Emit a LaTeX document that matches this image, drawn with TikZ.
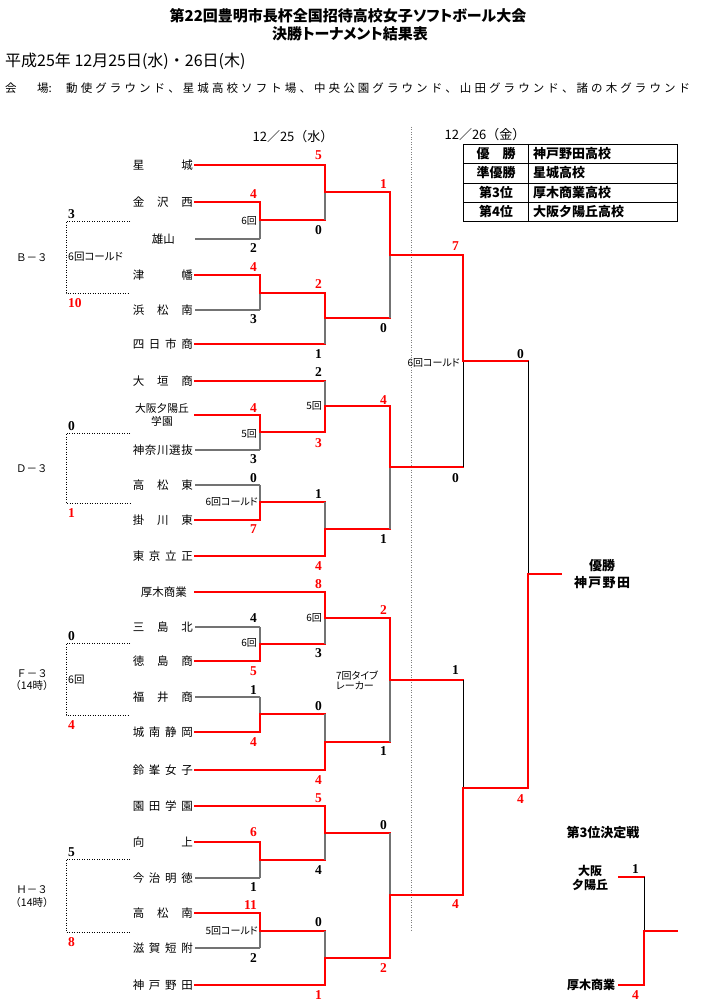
\documentclass[tikz,border=0pt]{standalone}
\usepackage{fontspec}
\setmainfont{Noto Sans CJK JP}
\newfontfamily\jpp{Noto Sans CJK JP}[RawFeature=+palt]
\newfontfamily\numfont{Liberation Serif}
\definecolor{wr}{RGB}{255,0,0}
\definecolor{lg}{RGB}{115,115,115}
\makeatletter
\def\spreadtxt#1{#1\spread@next}
\def\spread@next#1{\ifx#1\relax\else\hfill#1\expandafter\spread@next\fi}
\makeatother
\newcommand\tn[1]{\makebox[60pt][s]{\spreadtxt#1\relax}}
\newcommand\spw[2]{\makebox[#1][s]{\spreadtxt#2\relax}}
\tikzset{
 win/.style={draw=wr, line width=2pt, line cap=rect},
 los/.style={draw=lg, line width=1.3pt},
 lk/.style={draw=black, line width=0.8pt},
 tm/.style={anchor=east, inner sep=0pt, font=\fontsize{11.5}{12}\selectfont},
 sr/.style={inner sep=0pt, anchor=east, text=wr, font=\numfont\bfseries\fontsize{13.5}{13.5}\selectfont},
 sb/.style={inner sep=0pt, anchor=east, text=black, font=\numfont\bfseries\fontsize{13.5}{13.5}\selectfont},
 lb/.style={inner sep=0pt, font=\jpp\fontsize{10}{10}\selectfont},
 dt/.style={draw=black, line width=0.7pt, dash pattern=on 1pt off 1.5pt},
 bl/.style={inner sep=0pt, font=\fontsize{10.5}{12.5}\selectfont},
 tb/.style={inner sep=0pt, font=\bfseries\fontsize{13}{13}\selectfont},
}
% game: [loser style]{junction}{top source}{bottom source}{1 top wins / 2 bottom wins}{next}
\newcommand\game[6][los]{%
 \ifnum#5=1
  \draw[#1] (#2) -- (#2 |- #4);
  \draw[win] (#2 |- #3) -- (#2) -- (#2 -| #6);
 \else
  \draw[#1] (#2 |- #3) -- (#2);
  \draw[win] (#2 |- #4) -- (#2) -- (#2 -| #6);
 \fi}
\begin{document}
\begin{tikzpicture}[x=1pt,y=-1pt]
\fill[white] (0,0) rectangle (710,1003);
\useasboundingbox (0,0) rectangle (710,1003);

% header
\node[inner sep=0pt, font=\jpp\bfseries\fontsize{15}{15}\selectfont] (ttl1) at (348,16) {第22回豊明市長杯全国招待高校女子ソフトボール大会};
\node[inner sep=0pt, font=\jpp\bfseries\fontsize{15}{15}\selectfont] (ttl2) at (350,34) {決勝トーナメント結果表};
\node[inner sep=0pt, anchor=west, font=\fontsize{16}{16}\selectfont] (date) at (5,61) {平成25年\ 12月25日(水)・26日(木)};
\node[inner sep=0pt, anchor=west, font=\fontsize{11.5}{11.5}\selectfont] (ven1) at (5,88) {会};
\node[inner sep=0pt, anchor=west, font=\fontsize{11.5}{11.5}\selectfont] (ven2) at (37,88) {場:};
\node[inner sep=0pt, anchor=west, font=\fontsize{11.5}{11.5}\selectfont] (ven3) at (66,88) {\spw{624pt}{動使グラウンド、星城高校ソフト場、中央公園グラウンド、山田グラウンド、諸の木グラウンド}};

\node[inner sep=0pt, font=\fontsize{13}{13}\selectfont] (day1) at (293,137) {12／25（水）};
\node[inner sep=0pt, font=\fontsize{13}{13}\selectfont] (day2) at (485,135) {12／26（金）};

% separator
\coordinate (sepT) at (411,127);
\coordinate (sepB) at (411,932);
\draw[draw=gray, line width=0.8pt, dash pattern=on 1pt off 1.5pt] (sepT) -- (sepB);

% result table
\draw[line width=0.8pt] (463,144) rectangle (677,221);
\draw[line width=0.8pt] (528,144) -- (528,221);
\foreach \yy in {163.5,183,202} \draw[line width=0.8pt] (463,\yy) -- (677,\yy);
\node[tb] (r1a) at (496,154) {優　勝};
\node[tb] (r2a) at (496,173) {準優勝};
\node[tb] (r3a) at (496,192.5) {第3位};
\node[tb] (r4a) at (496,211.5) {第4位};
\node[tb, anchor=west] (r1b) at (533,154) {神戸野田高校};
\node[tb, anchor=west] (r2b) at (533,173) {星城高校};
\node[tb, anchor=west] (r3b) at (533,192.5) {厚木商業高校};
\node[tb, anchor=west] (r4b) at (533,211.5) {大阪夕陽丘高校};

% team-line start
\coordinate (lx) at (195,0);

% ---------- teams ----------
\node[tm] (b1) at (193,165) {\tn{星城}};
\node[tm] (b2) at (193,202) {\tn{金沢西}};
\node[tm] (b3) at (175,239) {雄山};
\node[tm] (b4) at (193,275) {\tn{津幡}};
\node[tm] (b5) at (193,310) {\tn{浜松南}};
\node[tm] (b6) at (193,344) {\tn{四日市商}};

\node[tm] (d1) at (193,381) {\tn{大垣商}};
\node[inner sep=0pt, align=center, font=\fontsize{10.8}{13}\selectfont] (d2) at (162,415) {大阪夕陽丘\\学園};
\node[tm] (d3) at (193,450) {\tn{神奈川選抜}};
\node[tm] (d4) at (193,485) {\tn{高松東}};
\node[tm] (d5) at (193,520) {\tn{掛川東}};
\node[tm] (d6) at (193,556) {\tn{東京立正}};

\node[tm] (f1) at (187,592) {厚木商業};
\node[tm] (f2) at (193,627) {\tn{三島北}};
\node[tm] (f3) at (193,661) {\tn{徳島商}};
\node[tm] (f4) at (193,697) {\tn{福井商}};
\node[tm] (f5) at (193,732) {\tn{城南静岡}};
\node[tm] (f6) at (193,770) {\tn{鈴峯女子}};

\node[tm] (h1) at (193,806) {\tn{園田学園}};
\node[tm] (h2) at (193,842) {\tn{向上}};
\node[tm] (h3) at (193,878) {\tn{今治明徳}};
\node[tm] (h4) at (193,913) {\tn{高松南}};
\node[tm] (h5) at (193,948) {\tn{滋賀短附}};
\node[tm] (h6) at (193,985) {\tn{神戸野田}};

% ---------- junctions ----------
\coordinate (gB1) at (260,220); \coordinate (gB2) at (260,293);
\coordinate (gB3) at (325,192); \coordinate (gB4) at (325,318);
\coordinate (gB5) at (390,255);
\coordinate (gD1) at (260,432); \coordinate (gD2) at (260,502);
\coordinate (gD3) at (325,406); \coordinate (gD4) at (325,529);
\coordinate (gD5) at (390,467);
\coordinate (gF1) at (260,644); \coordinate (gF2) at (260,714);
\coordinate (gF3) at (325,618); \coordinate (gF4) at (325,742);
\coordinate (gF5) at (390,680);
\coordinate (gH1) at (260,860); \coordinate (gH2) at (260,931);
\coordinate (gH3) at (325,833); \coordinate (gH4) at (325,958);
\coordinate (gH5) at (390,895);
\coordinate (gS1) at (463,361); \coordinate (gS2) at (463,788);
\coordinate (gFin) at (528,574); \coordinate (cW) at (561,574);

% ---------- team lines ----------
\draw[win] (b1 -| lx) -- (b1 -| gB3);
\draw[win] (b2 -| lx) -- (b2 -| gB1);
\draw[los] (b3 -| lx) -- (b3 -| gB1);
\draw[win] (b4 -| lx) -- (b4 -| gB2);
\draw[los] (b5 -| lx) -- (b5 -| gB2);
\draw[win] (b6 -| lx) -- (b6 -| gB4);

\draw[win] (d1 -| lx) -- (d1 -| gD3);
\draw[win] (d2 -| lx) -- (d2 -| gD1);
\draw[los] (d3 -| lx) -- (d3 -| gD1);
\draw[los] (d4 -| lx) -- (d4 -| gD2);
\draw[win] (d5 -| lx) -- (d5 -| gD2);
\draw[win] (d6 -| lx) -- (d6 -| gD4);

\draw[win] (f1 -| lx) -- (f1 -| gF3);
\draw[los] (f2 -| lx) -- (f2 -| gF1);
\draw[win] (f3 -| lx) -- (f3 -| gF1);
\draw[los] (f4 -| lx) -- (f4 -| gF2);
\draw[win] (f5 -| lx) -- (f5 -| gF2);
\draw[win] (f6 -| lx) -- (f6 -| gF4);

\draw[win] (h1 -| lx) -- (h1 -| gH3);
\draw[win] (h2 -| lx) -- (h2 -| gH1);
\draw[los] (h3 -| lx) -- (h3 -| gH1);
\draw[win] (h4 -| lx) -- (h4 -| gH2);
\draw[los] (h5 -| lx) -- (h5 -| gH2);
\draw[win] (h6 -| lx) -- (h6 -| gH4);

% ---------- games ----------
\game{gB1}{b2}{b3}{1}{gB3}
\game{gB2}{b4}{b5}{1}{gB4}
\game{gB3}{b1}{gB1}{1}{gB5}
\game{gB4}{gB2}{b6}{1}{gB5}
\game{gB5}{gB3}{gB4}{1}{gS1}

\game{gD1}{d2}{d3}{1}{gD3}
\game{gD2}{d4}{d5}{2}{gD4}
\game{gD3}{d1}{gD1}{2}{gD5}
\game{gD4}{gD2}{d6}{2}{gD5}
\game{gD5}{gD3}{gD4}{1}{gS1}

\game{gF1}{f2}{f3}{2}{gF3}
\game{gF2}{f4}{f5}{2}{gF4}
\game{gF3}{f1}{gF1}{1}{gF5}
\game{gF4}{gF2}{f6}{2}{gF5}
\game{gF5}{gF3}{gF4}{1}{gS2}

\game{gH1}{h2}{h3}{1}{gH3}
\game{gH2}{h4}{h5}{1}{gH4}
\game{gH3}{h1}{gH1}{1}{gH5}
\game{gH4}{gH2}{h6}{2}{gH5}
\game{gH5}{gH3}{gH4}{2}{gS2}

\game[lk]{gS1}{gB5}{gD5}{1}{gFin}
\game[lk]{gS2}{gF5}{gH5}{2}{gFin}
\game[lk]{gFin}{gS1}{gS2}{2}{cW}

% champion
\node[inner sep=0pt, align=center, font=\bfseries\fontsize{13}{17}\selectfont] (champ) at (602,574.5) {優勝\\\spw{56pt}{神戸野田}};

% ---------- scores ----------
\node[sr] (sb1) at (322,155) {5};
\node[sr] (sb2) at (257,194) {4};
\node[sb] (sb3) at (322,230) {0};
\node[sb] (sb4) at (257,248) {2};
\node[sr] (sb5) at (387,184) {1};
\node[sr] (sb6) at (257,267) {4};
\node[sr] (sb7) at (322,284) {2};
\node[sb] (sb8) at (257,319) {3};
\node[sb] (sb9) at (387,328) {0};
\node[sb] (sb10) at (322,354) {1};

\node[sb] (sd1) at (322,372) {2};
\node[sr] (sd2) at (257,408) {4};
\node[sb] (sd3) at (257,459) {3};
\node[sr] (sd4) at (322,443) {3};
\node[sr] (sd5) at (387,400) {4};
\node[sb] (sd6) at (257,478) {0};
\node[sr] (sd7) at (257,529) {7};
\node[sb] (sd8) at (322,494) {1};
\node[sr] (sd9) at (322,566) {4};
\node[sb] (sd10) at (387,539) {1};

\node[sr] (sf1) at (322,584) {8};
\node[sb] (sf2) at (257,618) {4};
\node[sr] (sf3) at (257,671) {5};
\node[sb] (sf4) at (322,653) {3};
\node[sr] (sf5) at (387,610) {2};
\node[sb] (sf6) at (257,690) {1};
\node[sr] (sf7) at (257,742) {4};
\node[sb] (sf8) at (322,706) {0};
\node[sr] (sf9) at (322,780) {4};
\node[sb] (sf10) at (387,751) {1};

\node[sr] (sh1) at (322,798) {5};
\node[sr] (sh2) at (257,832) {6};
\node[sb] (sh3) at (257,887) {1};
\node[sb] (sh4) at (322,870) {4};
\node[sb] (sh5) at (387,825) {0};
\node[sr] (sh6) at (257,905) {11};
\node[sb] (sh7) at (257,958) {2};
\node[sb] (sh8) at (322,922) {0};
\node[sr] (sh9) at (322,995) {1};
\node[sr] (sh10) at (387,968) {2};

\node[sr] (ss1) at (459,246) {7};
\node[sb] (ss2) at (459,478) {0};
\node[sb] (ss3) at (524,354) {0};
\node[sb] (ss4) at (459,670) {1};
\node[sr] (ss5) at (459,904) {4};
\node[sr] (ss6) at (524,799) {4};

% ---------- small labels ----------
\node[lb, anchor=east] (lbB1) at (257,221) {6回};
\node[lb, anchor=east] (lbD1) at (257,434) {5回};
\node[lb, anchor=east] (lbD2) at (322,406) {5回};
\node[lb, anchor=east] (lbD3) at (258,502) {6回コールド};
\node[lb, anchor=east] (lbF1) at (322,618) {6回};
\node[lb, anchor=east] (lbF2) at (257,643) {6回};
\node[lb, align=left] (lbF3) at (357,680) {7回タイブ\\レーカー};
\node[lb, anchor=east] (lbH1) at (258,931) {5回コールド};
\node[lb, anchor=east] (lbS1) at (460,363) {6回コールド};

% ---------- side games (dotted) ----------
\draw[dt] (130,221) -- (66,221) -- (66,293) -- (130,293);
\draw[dt] (130,433) -- (66,433) -- (66,503) -- (130,503);
\draw[dt] (130,643) -- (66,643) -- (66,715) -- (130,715);
\draw[dt] (130,859) -- (66,859) -- (66,932) -- (130,932);
\node[sb, anchor=west] (xl1) at (68,214) {3};
\node[sr, anchor=west] (xl2) at (68,303) {10};
\node[sb, anchor=west] (xl3) at (68,426) {0};
\node[sr, anchor=west] (xl4) at (68,513) {1};
\node[sb, anchor=west] (xl5) at (68,636) {0};
\node[sr, anchor=west] (xl6) at (68,725) {4};
\node[sb, anchor=west] (xl7) at (68,852) {5};
\node[sr, anchor=west] (xl8) at (68,942) {8};
\node[lb, anchor=west, font=\jpp\fontsize{10.5}{10.5}\selectfont] (xg1) at (68,257) {6回コールド};
\node[lb, anchor=west, font=\jpp\fontsize{10.5}{10.5}\selectfont] (xg2) at (68,680) {6回};
\node[bl] (gpB) at (32,258) {Ｂ－３};
\node[bl] (gpD) at (32,469) {Ｄ－３};
\node[bl, align=center] (gpF) at (32,680) {Ｆ－３\\（14時）};
\node[bl, align=center] (gpH) at (32,896.5) {Ｈ－３\\（14時）};

% ---------- third place ----------
\node[inner sep=0pt, font=\bfseries\fontsize{13}{13}\selectfont] (t3t) at (603,833) {第3位決定戦};
\node[inner sep=0pt, align=center, font=\bfseries\fontsize{12}{14}\selectfont] (t3a) at (590,878) {大阪\\夕陽丘};
\node[inner sep=0pt, font=\bfseries\fontsize{12}{12}\selectfont] (t3b) at (591,985) {厚木商業};
\coordinate (p3a) at (619,877);
\coordinate (p3b) at (619,985);
\coordinate (g3) at (644,931);
\coordinate (c3) at (677,931);
\draw[win] (p3a) -- (p3a -| g3);
\draw[win] (p3b) -- (p3b -| g3);
\game[lk]{g3}{p3a}{p3b}{2}{c3}
\node[sb] (s3a) at (639,869) {1};
\node[sr] (s3b) at (639,995) {4};
\end{tikzpicture}
\end{document}
